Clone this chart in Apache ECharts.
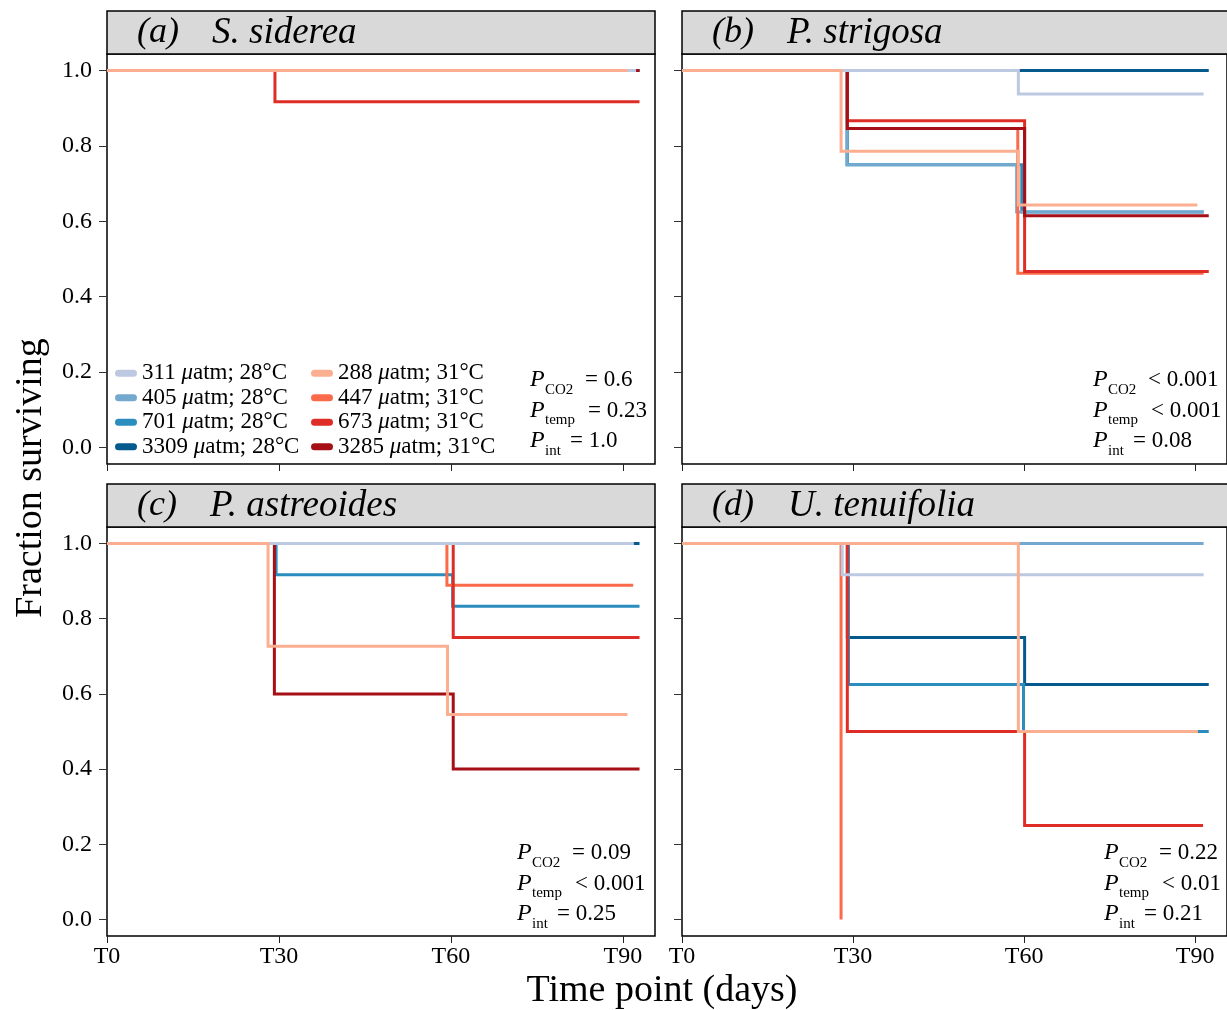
<!DOCTYPE html>
<html><head><meta charset="utf-8">
<script src="https://cdn.jsdelivr.net/npm/echarts@6/dist/echarts.min.js"></script>
<style>html,body{margin:0;padding:0;background:#fff}#c{width:1227px;height:1010px}</style>
</head><body><div id="c"></div>
<script>
// ---------- data ----------
const treatments = ['311 μatm; 28°C','405 μatm; 28°C','701 μatm; 28°C','3309 μatm; 28°C',
                    '288 μatm; 31°C','447 μatm; 31°C','673 μatm; 31°C','3285 μatm; 31°C'];
const colors = ['#bdc9e1','#74a9cf','#2b8cbe','#045a8d','#fcae91','#fb6a4a','#de2d26','#a50f15'];
const panelLabels = ['(a)','(b)','(c)','(d)'];
const species = ['S. siderea','P. strigosa','P. astreoides','U. tenuifolia'];
const timeTicks = [0,30,60,90];
const timeTickLabels = ['T0','T30','T60','T90'];
const survivalTicks = [0,0.2,0.4,0.6,0.8,1.0];

// survival curves: [day, fraction surviving] for each treatment (same order as `treatments`)
const sidereaSurv = [
  [[0,1],[92.3,1]],
  [[0,1],[92.3,1]],
  [[0,1],[92.3,1]],
  [[0,1],[92.9,1]],
  [[0,1],[90.8,1]],
  [[0,1],[91.8,1]],
  [[0,1],[29.3,0.917],[92.9,0.917]],
  [[0,1],[92.9,1]]
];
const strigosaSurv = [
  [[0,1],[59.0,0.938],[91.5,0.938]],
  [[0,1],[28.9,0.75],[58.7,0.625],[91.5,0.625]],
  [[0,1],[29.0,0.75],[59.6,0.625],[91.5,0.625]],
  [[0,1],[92.4,1]],
  [[0,1],[27.9,0.786],[59.0,0.643],[90.4,0.643]],
  [[0,1],[29.0,0.846],[58.9,0.462],[91.5,0.462]],
  [[0,1],[29.0,0.867],[60.1,0.467],[92.4,0.467]],
  [[0,1],[29.0,0.846],[60.1,0.615],[92.4,0.615]]
];
const astreoidesSurv = [
  [[0,1],[91.9,1]],
  [[0,1],[91.9,1]],
  [[0,1],[29.5,0.917],[60.3,0.833],[92.9,0.833]],
  [[0,1],[92.9,1]],
  [[0,1],[28.1,0.727],[59.4,0.545],[90.8,0.545]],
  [[0,1],[59.3,0.889],[91.8,0.889]],
  [[0,1],[60.4,0.75],[92.9,0.75]],
  [[0,1],[29.2,0.6],[60.4,0.4],[92.9,0.4]]
];
const tenuifoliaSurv = [
  [[0,1],[28.1,0.917],[91.5,0.917]],
  [[0,1],[91.5,1]],
  [[0,1],[29.2,0.625],[59.9,0.5],[92.4,0.5]],
  [[0,1],[29.0,0.75],[60.1,0.625],[92.4,0.625]],
  [[0,1],[59.0,0.5],[90.5,0.5]],
  [[0,1],[27.9,0]],
  [[0,1],[29.0,0.5],[60.1,0.25],[91.4,0.25]],
  []
];
const pCO2  = ['= 0.6','< 0.001','= 0.09','= 0.22'];
const pTemp = ['= 0.23','< 0.001','< 0.001','< 0.01'];
const pInt  = ['= 1.0','= 0.08','= 0.25','= 0.21'];

// ---------- layout ----------
const SERIF = '"Liberation Serif","Times New Roman",serif';
const panels = [sidereaSurv, strigosaSurv, astreoidesSurv, tenuifoliaSurv];
const gridPos = [
  {left:107, top:54, width:548, height:410},
  {left:682, top:54, width:548, height:410},
  {left:107, top:527, width:548, height:409},
  {left:682, top:527, width:548, height:409}
];
const drawOrder = [3,2,1,5,6,7,0,4];

const grids = [], xAxes = [], yAxes = [], series = [];
gridPos.forEach((g,p) => {
  grids.push(Object.assign({show:true, borderColor:'#000', borderWidth:1.5, containLabel:false}, g));
  const bottomRow = p >= 2, leftCol = p % 2 === 0;
  xAxes.push({
    type:'value', gridIndex:p, min:0, max:95.6, position:'bottom',
    axisLine:{show:false, onZero:false}, splitLine:{show:false},
    axisTick:{show:true, inside:false, length:7, customValues:timeTicks, lineStyle:{color:'#222', width:1}},
    axisLabel:{show:bottomRow, customValues:timeTicks, margin:9,
      formatter:v => timeTickLabels[timeTicks.indexOf(v)],
      fontFamily:SERIF, fontSize:24, color:'#000'}
  });
  yAxes.push({
    type:'value', gridIndex:p, min:-0.044, max:1.044, position:'left',
    axisLine:{show:false, onZero:false}, splitLine:{show:false},
    axisTick:{show:true, inside:false, length:8, customValues:survivalTicks, lineStyle:{color:'#333', width:1}},
    axisLabel:{show:leftCol, customValues:survivalTicks, margin:15,
      formatter:v => v.toFixed(1), fontFamily:SERIF, fontSize:24, color:'#000'}
  });
  drawOrder.forEach(k => {
    series.push({
      type:'line', name:treatments[k], xAxisIndex:p, yAxisIndex:p,
      data:panels[p][k], step:'end', symbol:'none', showSymbol:false,
      color:colors[k], lineStyle:{color:colors[k], width:3, cap:'butt', join:'miter'},
      silent:true, animation:false
    });
  });
});

const capsule = 'path://M3.5,0 L18.5,0 A3.5,3.5 0 0 1 18.5,7 L3.5,7 A3.5,3.5 0 0 1 3.5,0 Z';
function legendAt(left, names){
  return {
    data:names, orient:'vertical', left:left, top:361, padding:0,
    itemWidth:22, itemHeight:7, itemGap:0,
    icon:capsule, selectedMode:false,
    formatter:n => n.replace('μ','{i|μ}'),
    textStyle:{fontFamily:SERIF, fontSize:23, color:'#000', lineHeight:24.5,
      rich:{i:{fontFamily:SERIF, fontSize:23, fontStyle:'italic', color:'#000', lineHeight:24.5}}}
  };
}

const graphic = [];
const headerPos = [[107,11,548],[682,11,548],[107,484,548],[682,484,548]];
const labelX = [[137,212],[712,787],[137,210],[712,788]];
headerPos.forEach((h,p) => {
  graphic.push({type:'rect', shape:{x:h[0], y:h[1], width:h[2], height:43},
    style:{fill:'#d9d9d9', stroke:'#000', lineWidth:1.5}, silent:true});
  graphic.push({type:'text', x:labelX[p][0], y:h[1]+22, style:{text:panelLabels[p], font:'italic 36px '+SERIF,
    fill:'#000', textVerticalAlign:'middle'}, silent:true});
  graphic.push({type:'text', x:labelX[p][1], y:h[1]+22, style:{text:species[p], font:'italic 37px '+SERIF,
    fill:'#000', textVerticalAlign:'middle'}, silent:true});
});

const pBlockPos = [[530,380],[1093,380],[517,853],[1104,853]];
const pSubs = ['CO2','temp','int'];
const valOffset = [55,58,40];
pBlockPos.forEach((b,p) => {
  const vals = [pCO2[p], pTemp[p], pInt[p]];
  vals.forEach((v,i) => {
    const y = b[1] + i*30.5;
    graphic.push({type:'text', x:b[0], y:y, style:{text:'P', font:'italic 24px '+SERIF, fill:'#000', textVerticalAlign:'middle'}, silent:true});
    graphic.push({type:'text', x:b[0]+15, y:y+10, style:{text:pSubs[i], font:'15px '+SERIF, fill:'#000', textVerticalAlign:'middle'}, silent:true});
    graphic.push({type:'text', x:b[0]+valOffset[i], y:y, style:{text:v, font:'23px '+SERIF, fill:'#000', textVerticalAlign:'middle'}, silent:true});
  });
});

graphic.push({type:'text', x:31, y:478, rotation:Math.PI/2,
  style:{text:'Fraction surviving', font:'38px '+SERIF, fill:'#000', textAlign:'center', textVerticalAlign:'middle'}, silent:true});
graphic.push({type:'text', x:662, y:991,
  style:{text:'Time point (days)', font:'38px '+SERIF, fill:'#000', textAlign:'center', textVerticalAlign:'middle'}, silent:true});

const chart = echarts.init(document.getElementById('c'), null, {renderer:'canvas'});
chart.setOption({
  backgroundColor:'#fff', animation:false,
  grid:grids, xAxis:xAxes, yAxis:yAxes, series:series,
  legend:[legendAt(115, treatments.slice(0,4)), legendAt(311, treatments.slice(4))],
  graphic:graphic
});
</script></body></html>
